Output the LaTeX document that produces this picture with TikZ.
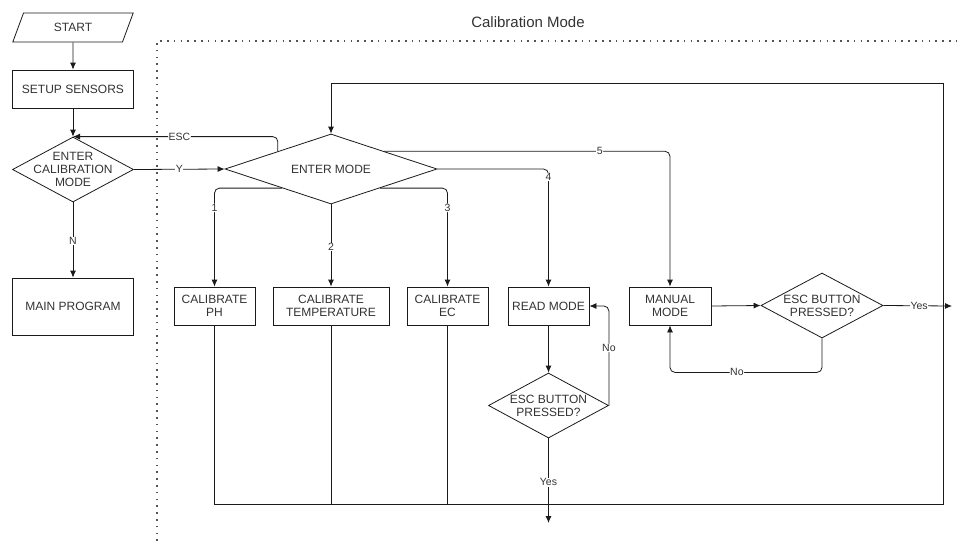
\documentclass[tikz,border=0pt]{standalone}
\usepackage{fontspec}
\setmainfont{Liberation Sans}
\usetikzlibrary{shapes.geometric,arrows.meta,calc}
\definecolor{txt}{HTML}{333333}
\definecolor{ln}{HTML}{1A1A1A}
\tikzset{
  base/.style={draw=ln, line width=0.8pt, text=txt, font=\fontsize{12}{13}\selectfont, align=center, inner sep=0pt},
  procbox/.style={base, rectangle},
  decision/.style={base, diamond},
  dtext/.style={text=txt, font=\fontsize{12}{13}\selectfont, align=center, inner sep=0pt},
  iobox/.style={base, trapezium, trapezium left angle=64, trapezium right angle=116, trapezium stretches=true},
  conn/.style={draw=ln, line width=0.8pt},
  arr/.style={conn, -{Latex[length=7pt,width=6pt]}},
  lbl/.style={fill=white, text=txt, font=\fontsize{10.5}{12}\selectfont, inner sep=0.6pt},
  dotline/.style={draw=ln!75, line width=1.6pt, dash pattern=on 1.6pt off 5.2pt},
}
\begin{document}
\begin{tikzpicture}[x=1pt,y=-1pt]
\useasboundingbox (0,0) rectangle (963,541);
% boundary
\draw[dotline] (157,541) -- (157,41) -- (963,41);
\node[text=txt, font=\fontsize{15}{17}\selectfont] (title) at (528,22) {Calibration Mode};
% left column
\node[iobox, minimum width=121pt, minimum height=29pt] (start) at (73,27.5) {START};
\node[procbox, minimum width=121pt, minimum height=38pt] (setup) at (73,89) {SETUP SENSORS};
\node[decision, minimum width=121pt, minimum height=65pt, label={[dtext]center:{ENTER\\CALIBRATION\\MODE}}] (ecm) at (73,169.5) {};
\node[procbox, minimum width=121pt, minimum height=57pt] (main) at (73,306.5) {MAIN PROGRAM};
% enter mode
\node[decision, minimum width=212pt, minimum height=70pt, label={[dtext]center:{ENTER MODE}}] (em) at (331,169) {};
% row of boxes
\node[procbox, minimum width=81pt, minimum height=38pt] (ph) at (214.5,306) {CALIBRATE\\PH};
\node[procbox, minimum width=116pt, minimum height=38pt] (temp) at (331,306) {CALIBRATE\\TEMPERATURE};
\node[procbox, minimum width=81pt, minimum height=38pt] (ec) at (447.5,306) {CALIBRATE\\EC};
\node[procbox, minimum width=81pt, minimum height=38pt] (rm) at (548.5,306) {READ MODE};
\node[procbox, minimum width=82pt, minimum height=38pt] (mm) at (670,306) {MANUAL\\MODE};
\node[decision, minimum width=120pt, minimum height=65pt, label={[dtext]center:{ESC BUTTON\\PRESSED?}}] (rdia) at (548.5,405.5) {};
\node[decision, minimum width=122pt, minimum height=65pt, label={[dtext]center:{ESC BUTTON\\PRESSED?}}] (mdia) at (822,305.5) {};
% coordinates
\coordinate (bl) at (214.5,504);
\coordinate (br) at (943,504);
\coordinate (tr) at (943,83);
\coordinate (tl) at (331,83);
\coordinate (rout) at (548.5,523);
\coordinate (mout) at (952,306);
% left connectors
\draw[arr] (start) -- (setup);
\draw[arr] (setup) -- (ecm.north);
\draw[arr] (ecm.south) -- node[lbl, pos=0.51] {N} (main);
\draw[arr] (ecm.east) -- node[lbl, pos=0.5] {Y} (em.west);
\draw[arr, rounded corners=5pt] ($(em.west)!0.5!(em.north)$) |- node[lbl, pos=0.74] {ESC} (ecm.north);
% branches
\draw[arr, rounded corners=5pt] ($(em.west)!0.54!(em.south)$) -| node[lbl, pos=0.6] {1} (ph.north);
\draw[arr] (em.south) -- node[lbl, pos=0.52] {2} (temp.north);
\draw[arr, rounded corners=5pt] ($(em.east)!0.54!(em.south)$) -| node[lbl, pos=0.6] {3} (ec.north);
\draw[arr, rounded corners=5pt] (em.east) -| node[lbl, pos=0.534] {4} (rm.north);
\draw[arr, rounded corners=5pt] ($(em.east)!0.5!(em.north)$) -| node[lbl, pos=0.377] {5} (mm.north);
% read mode loop
\draw[arr] (rm.south) -- (rdia.north);
\draw[arr, rounded corners=5pt] (rdia.east) |- node[lbl, pos=0.29] {No} (rm.east);
\draw[arr] (rdia.south) -- node[lbl, pos=0.52] {Yes} (rout);
% manual mode loop
\draw[arr] (mm.east) -- (mdia.west);
\draw[arr, rounded corners=5pt] (mdia.south) -- ++(0,34) -| node[lbl, pos=0.28] {No} (mm.south);
\draw[arr] (mdia.east) -- node[lbl, pos=0.52] {Yes} (mout);
% return loop
\draw[conn] (temp.south) -- (temp.south |- bl);
\draw[conn] (ec.south) -- (ec.south |- bl);
\draw[arr] (ph.south) -- (bl) -- (br) -- (tr) -- (tl) -- (em.north);
\end{tikzpicture}
\end{document}
